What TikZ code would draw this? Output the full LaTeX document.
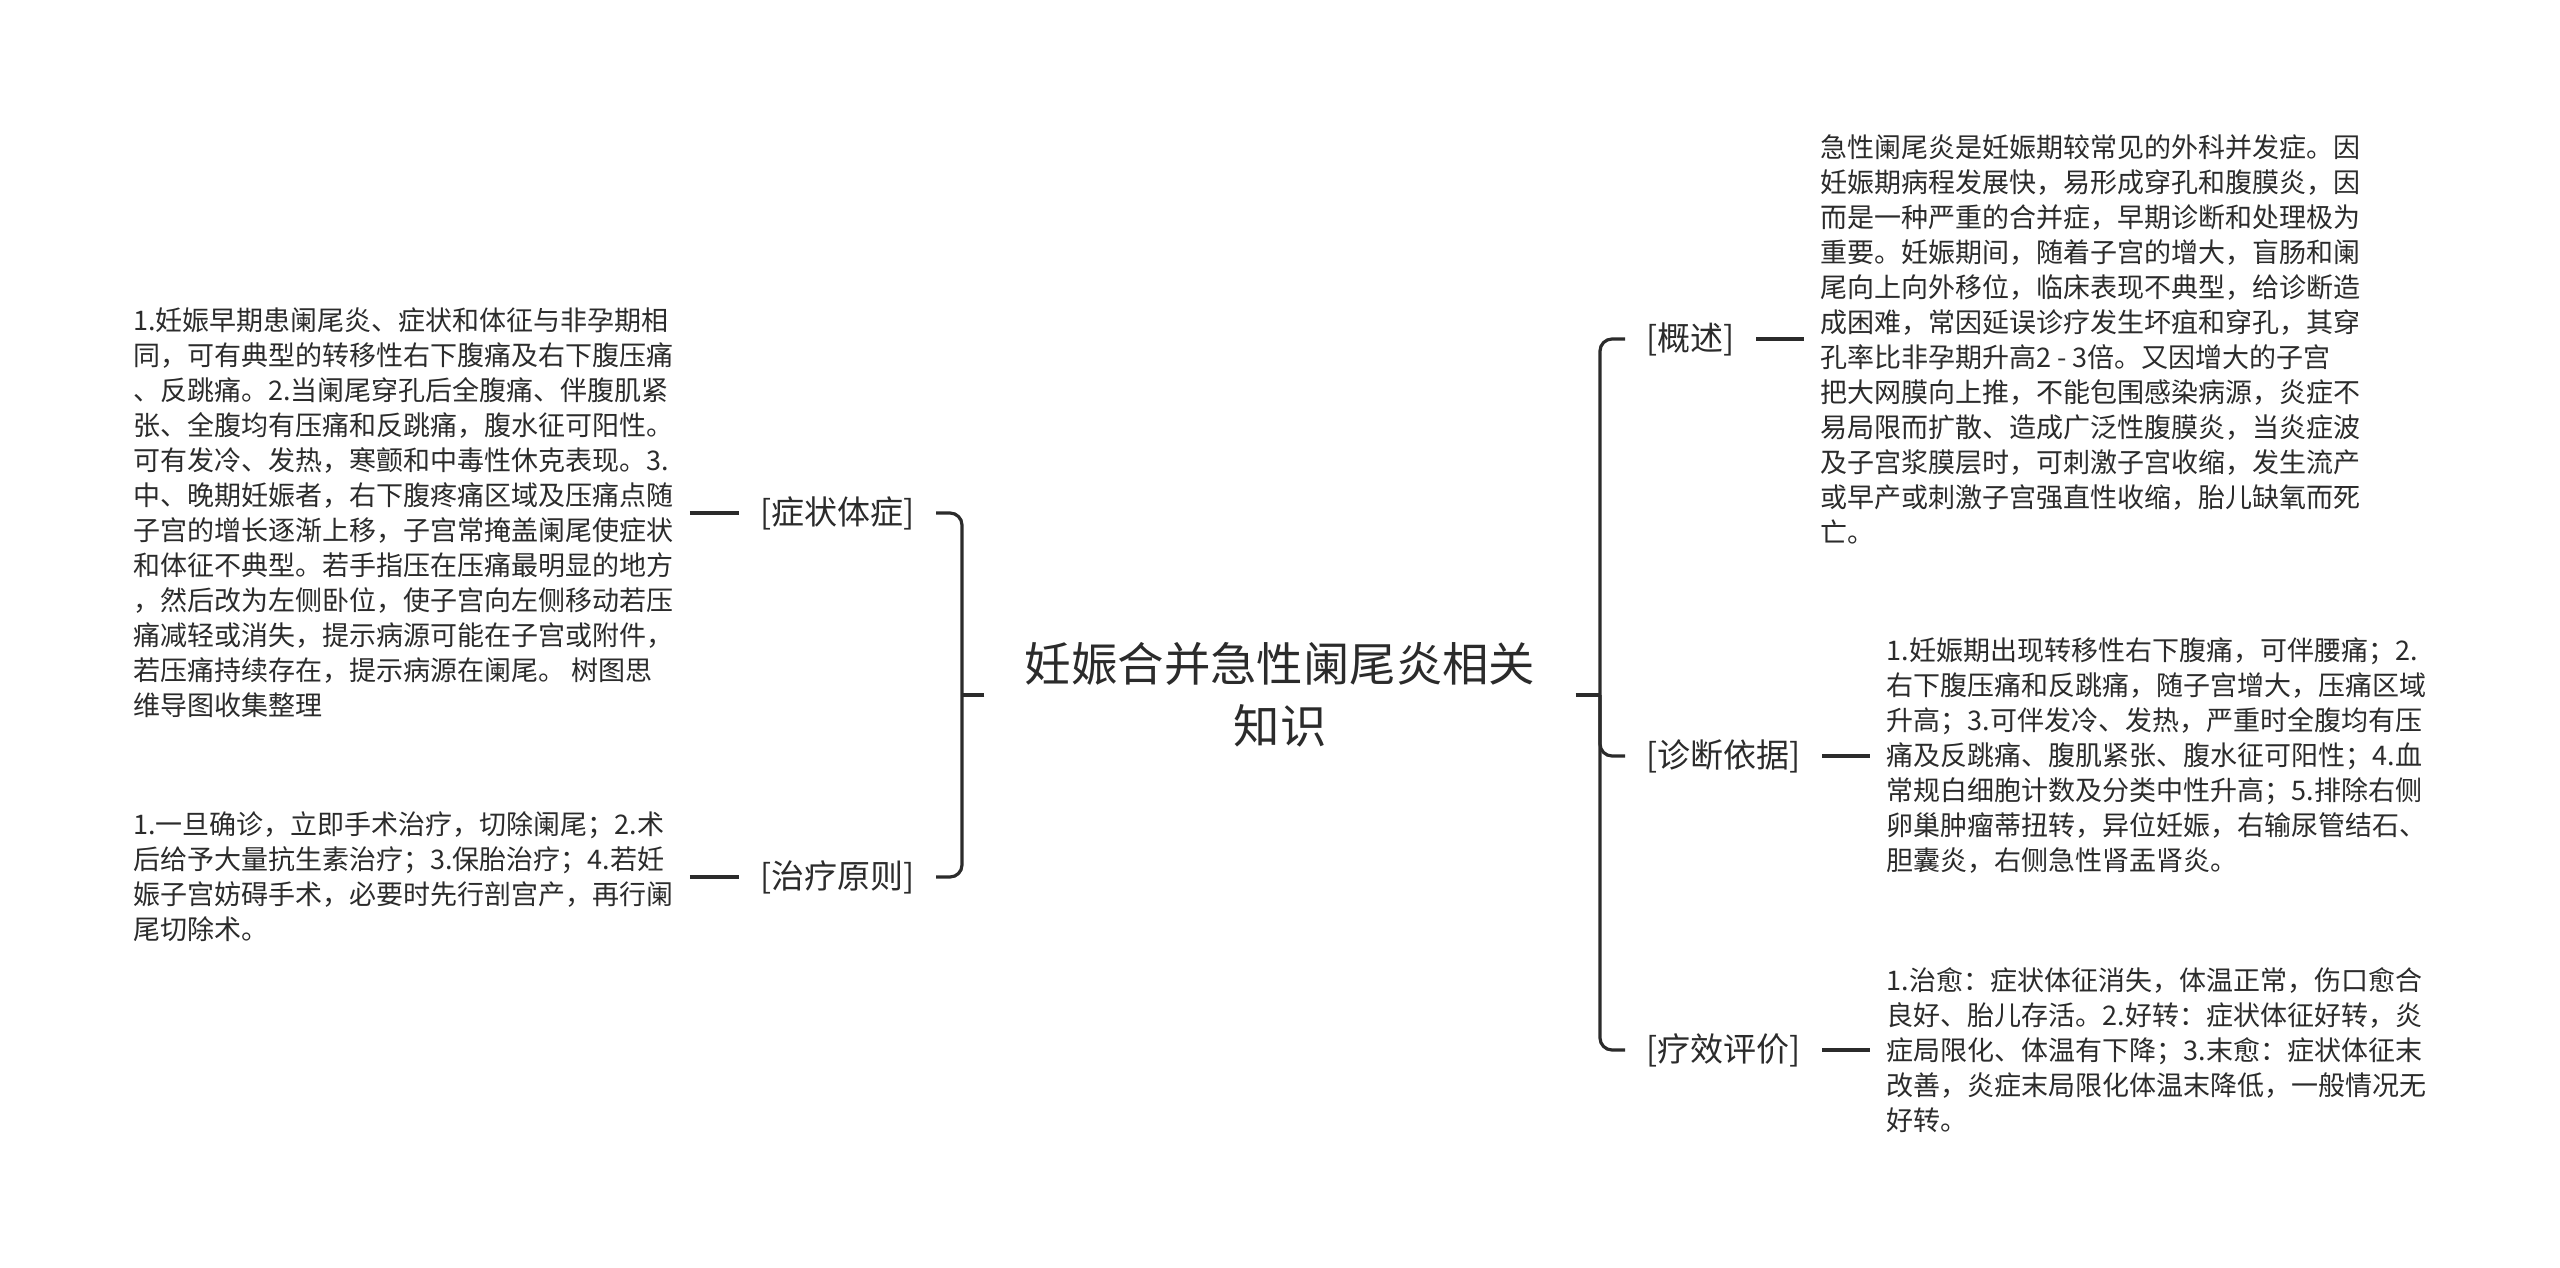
\documentclass[tikz,border=0pt]{standalone}
\usepackage{fontspec}
\setmainfont{Noto Sans CJK SC}
\usetikzlibrary{positioning}
\definecolor{ink}{HTML}{2B2B2B}

\begin{document}
\begin{tikzpicture}[
    x=0.5pt,
    y=-0.5pt,
    root/.style={align=center, text=ink, font=\fontsize{23.2}{31}\selectfont, inner xsep=20pt, inner ysep=4pt},
    branch/.style={text=ink, font=\fontsize{16.5}{20}\selectfont, inner xsep=10.5pt, inner ysep=2pt},
    leaf/.style={align=left, text=ink, font=\fontsize{13.5}{17.5}\selectfont, inner xsep=8pt, inner ysep=2pt},
    link/.style={draw=ink, line width=1.6pt, rounded corners=6pt}
]
\useasboundingbox (0,0) rectangle (2560,1268);

% centre topic and the two spines
\node[root] (root) at (1280,695) {妊娠合并急性阑尾炎相关\\知识};
\coordinate (lspine) at (962,695);
\coordinate (rspine) at (1600,695);

% left branches
\node[branch, anchor=east] (sym) at (936,513) {[症状体症]};
\node[branch, anchor=east] (treat) at (936,877) {[治疗原则]};

\node[leaf, left=24.5pt of sym] (symtxt) {1.妊娠早期患阑尾炎、症状和体征与非孕期相\\
同，可有典型的转移性右下腹痛及右下腹压痛\\
、反跳痛。2.当阑尾穿孔后全腹痛、伴腹肌紧\\
张、全腹均有压痛和反跳痛，腹水征可阳性。\\
可有发冷、发热，寒颤和中毒性休克表现。3.\\
中、晚期妊娠者，右下腹疼痛区域及压痛点随\\
子宫的增长逐渐上移，子宫常掩盖阑尾使症状\\
和体征不典型。若手指压在压痛最明显的地方\\
，然后改为左侧卧位，使子宫向左侧移动若压\\
痛减轻或消失，提示病源可能在子宫或附件，\\
若压痛持续存在，提示病源在阑尾。 树图思\\
维导图收集整理};
\node[leaf, left=24.5pt of treat] (treattxt) {1.一旦确诊，立即手术治疗，切除阑尾；2.术\\
后给予大量抗生素治疗；3.保胎治疗；4.若妊\\
娠子宫妨碍手术，必要时先行剖宫产，再行阑\\
尾切除术。};

% right branches
\node[branch, anchor=west] (summ) at (1625,339) {[概述]};
\node[branch, anchor=west] (diag) at (1625,756) {[诊断依据]};
\node[branch, anchor=west] (eval) at (1625,1050) {[疗效评价]};

\node[leaf, right=24pt of summ] (summtxt) {急性阑尾炎是妊娠期较常见的外科并发症。因\\
妊娠期病程发展快，易形成穿孔和腹膜炎，因\\
而是一种严重的合并症，早期诊断和处理极为\\
重要。妊娠期间，随着子宫的增大，盲肠和阑\\
尾向上向外移位，临床表现不典型，给诊断造\\
成困难，常因延误诊疗发生坏疽和穿孔，其穿\\
孔率比非孕期升高2 - 3倍。又因增大的子宫\\
把大网膜向上推，不能包围感染病源，炎症不\\
易局限而扩散、造成广泛性腹膜炎，当炎症波\\
及子宫浆膜层时，可刺激子宫收缩，发生流产\\
或早产或刺激子宫强直性收缩，胎儿缺氧而死\\
亡。};
\node[leaf, right=24pt of diag] (diagtxt) {1.妊娠期出现转移性右下腹痛，可伴腰痛；2.\\
右下腹压痛和反跳痛，随子宫增大，压痛区域\\
升高；3.可伴发冷、发热，严重时全腹均有压\\
痛及反跳痛、腹肌紧张、腹水征可阳性；4.血\\
常规白细胞计数及分类中性升高；5.排除右侧\\
卵巢肿瘤蒂扭转，异位妊娠，右输尿管结石、\\
胆囊炎，右侧急性肾盂肾炎。};
\node[leaf, right=24pt of eval] (evaltxt) {1.治愈：症状体征消失，体温正常，伤口愈合\\
良好、胎儿存活。2.好转：症状体征好转，炎\\
症局限化、体温有下降；3.末愈：症状体征末\\
改善，炎症末局限化体温末降低，一般情况无\\
好转。};

% connectors
\draw[link] (root.west) -- (lspine);
\draw[link] (sym.east) -| (lspine) |- (treat.east);
\draw[link] (root.east) -- (rspine);
\draw[link] (summ.west) -| (rspine) |- (eval.west);
\draw[link] (rspine) |- (diag.west);

\draw[link] (symtxt.east) -- (sym.west);
\draw[link] (treattxt.east) -- (treat.west);
\draw[link] (summ.east) -- (summtxt.west);
\draw[link] (diag.east) -- (diagtxt.west);
\draw[link] (eval.east) -- (evaltxt.west);
\end{tikzpicture}
\end{document}
